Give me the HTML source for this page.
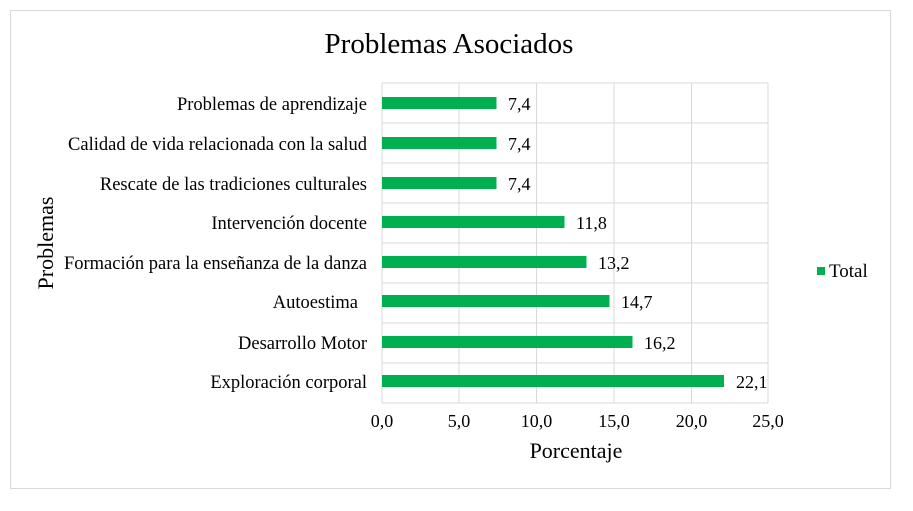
<!DOCTYPE html><html><head><style>body{margin:0;background:#fff}</style></head><body>
<svg width="913" height="506" xmlns="http://www.w3.org/2000/svg" font-family="Liberation Serif, serif" fill="#000">
<rect x="10.5" y="10.5" width="880" height="478" fill="#fff" stroke="#d9d9d9"/>
<text x="449" y="53" font-size="29" text-anchor="middle">Problemas Asociados</text>
<g stroke="#d9d9d9" stroke-width="1">
<line x1="382" y1="83" x2="382" y2="403"/><line x1="459" y1="83" x2="459" y2="403"/><line x1="536.5" y1="83" x2="536.5" y2="403"/><line x1="614" y1="83" x2="614" y2="403"/><line x1="691.5" y1="83" x2="691.5" y2="403"/><line x1="768" y1="83" x2="768" y2="403"/>
<line x1="382" y1="83" x2="768" y2="83"/><line x1="382" y1="123" x2="768" y2="123"/><line x1="382" y1="163" x2="768" y2="163"/><line x1="382" y1="203" x2="768" y2="203"/><line x1="382" y1="243" x2="768" y2="243"/><line x1="382" y1="283" x2="768" y2="283"/><line x1="382" y1="323" x2="768" y2="323"/><line x1="382" y1="363" x2="768" y2="363"/><line x1="382" y1="403" x2="768" y2="403"/>
</g>
<g fill="#00b050">
<rect x="382" y="97" width="114.5" height="12"/><rect x="382" y="137" width="114.5" height="12"/><rect x="382" y="177" width="114.5" height="12"/><rect x="382" y="216" width="182.5" height="12"/><rect x="382" y="256" width="204.5" height="12"/><rect x="382" y="295" width="227.5" height="12"/><rect x="382" y="336" width="250.5" height="12"/><rect x="382" y="375" width="342" height="12"/>
</g>
<g font-size="18">
<text x="508" y="110">7,4</text><text x="508" y="150">7,4</text><text x="508" y="190">7,4</text><text x="576" y="229">11,8</text><text x="598" y="269">13,2</text><text x="621" y="308">14,7</text><text x="644" y="349">16,2</text><text x="736" y="388">22,1</text>
</g>
<g font-size="18.5" text-anchor="end">
<text x="367" y="110">Problemas de aprendizaje</text><text x="367" y="150">Calidad de vida relacionada con la salud</text><text x="367" y="190">Rescate de las tradiciones culturales</text><text x="367" y="229">Intervención docente</text><text x="367" y="269">Formación para la enseñanza de la danza</text><text x="358" y="308">Autoestima</text><text x="367" y="349">Desarrollo Motor</text><text x="367" y="388">Exploración corporal</text>
</g>
<g font-size="18" text-anchor="middle">
<text x="382" y="427">0,0</text><text x="459" y="427">5,0</text><text x="536.5" y="427">10,0</text><text x="614" y="427">15,0</text><text x="691.5" y="427">20,0</text><text x="768" y="427">25,0</text>
</g>
<text x="576" y="458" font-size="22" text-anchor="middle">Porcentaje</text>
<text transform="translate(53,243) rotate(-90)" font-size="22" text-anchor="middle">Problemas</text>
<rect x="817" y="267" width="8" height="8" fill="#00b050"/>
<text x="829" y="277" font-size="19">Total</text>
</svg></body></html>
